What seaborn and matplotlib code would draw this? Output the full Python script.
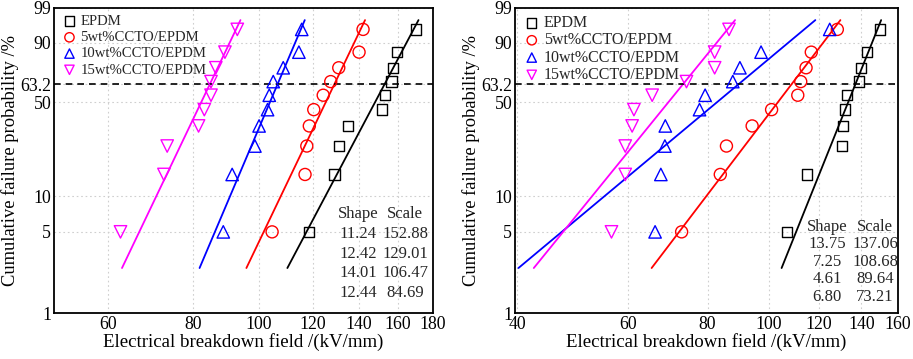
import numpy as np
import matplotlib
matplotlib.use("Agg")
import matplotlib.pyplot as plt
import seaborn as sns

# Data (breakdown field in kV/mm)
probs = [5, 15, 25, 35, 45, 55, 65, 75, 85, 95]  # cumulative failure probability, %
series_names = ["EPDM", "5wt%CCTO/EPDM", "10wt%CCTO/EPDM", "15wt%CCTO/EPDM"]

left_epdm = [118.5, 129.0, 130.9, 135.2, 151.5, 152.9, 156.5, 157.1, 159.4, 170.1]
left_5wt = [104.5, 116.8, 117.5, 118.5, 120.3, 124.2, 127.4, 130.9, 140.2, 142.1]
left_10wt = [88.6, 91.3, 98.6, 100.0, 102.9, 103.5, 104.9, 108.5, 114.4, 115.5]
left_15wt = [62.6, 72.5, 73.3, 81.5, 83.1, 85.0, 85.0, 86.4, 89.1, 92.9]
left_shape = [11.24, 12.42, 14.01, 12.44]
left_scale = [152.88, 129.01, 106.47, 84.69]

right_epdm = [106.7, 115.0, 130.5, 131.1, 131.8, 132.9, 139.0, 140.0, 142.9, 149.9]
right_5wt = [72.8, 83.8, 85.7, 94.1, 101.0, 111.1, 112.3, 114.5, 116.7, 128.3]
right_10wt = [66.1, 67.5, 68.5, 68.6, 77.7, 79.3, 87.7, 90.0, 97.2, 124.8]
right_15wt = [56.4, 59.3, 59.3, 60.8, 61.2, 65.4, 74.1, 82.1, 82.1, 86.5]
right_shape = [13.75, 7.25, 4.61, 6.80]
right_scale = [137.06, 108.68, 89.64, 73.21]

y_ticks = [1, 5, 10, 50, 63.2, 90, 99]
y_labels = ["1", "5", "10", "50", "63.2", "90", "99"]
left_xticks = [60, 80, 100, 120, 140, 160, 180]
right_xticks = [40, 60, 80, 100, 120, 140, 160]

colors = ["black", "#ff0000", "#0000ff", "#ff00ff"]
markers = ["s", "o", "^", "v"]
msizes = [55, 75, 80, 80]

sns.set_theme(style="white")
plt.rcParams["font.family"] = ["Liberation Serif", "DejaVu Serif"]


def weibull_y(p):
    p = np.asarray(p, dtype=float) / 100.0
    return np.log(-np.log(1 - p))


def draw_panel(ax, data, shapes, scales, xlim, xticks, table_pos, leg_font, leg_space):
    ys = weibull_y(probs)
    # fitted Weibull lines from shape / scale
    f_line = np.array([2.45, 97.3])
    for shp, scl, c in zip(shapes, scales, colors):
        xl = scl * (-np.log(1 - f_line / 100)) ** (1 / shp)
        sns.lineplot(x=xl, y=weibull_y(f_line), color=c, lw=1.3, ax=ax,
                     sort=False, legend=False)
    for vals, name, c, m, s in zip(data, series_names, colors, markers, msizes):
        sns.scatterplot(x=vals, y=ys, marker=m, s=s, facecolor="none",
                        edgecolor=c, linewidth=1.0, ax=ax, label=name, zorder=3)
    ax.axhline(0, color="black", ls=(0, (4, 3)), lw=1.2)

    ax.set_xscale("log")
    ax.set_xlim(*xlim)
    ax.set_xticks(xticks)
    ax.set_xticklabels([str(t) for t in xticks])
    ax.xaxis.set_minor_locator(matplotlib.ticker.NullLocator())
    ax.set_ylim(weibull_y(1), weibull_y(99))
    ax.set_yticks(weibull_y(y_ticks))
    ax.set_yticklabels(y_labels)
    ax.tick_params(direction="in", length=4, width=1, labelsize=12.8, pad=2,
                   colors="black")
    ax.grid(True, ls=(0, (1.5, 2.5)), color="#cfcfcf", lw=0.8)
    for sp in ax.spines.values():
        sp.set_color("black")
        sp.set_linewidth(1.3)
    ax.set_xlabel("Electrical breakdown field /(kV/mm)", fontsize=13.6, labelpad=0,
                  color="black")
    ax.set_ylabel("Cumulative failure probability /%", fontsize=13.3, labelpad=1,
                  color="black")

    leg = ax.legend(loc="upper left", frameon=False, fontsize=leg_font,
                    handletextpad=0.15, borderaxespad=0.25, labelspacing=leg_space,
                    handlelength=1.2, borderpad=0.2)
    for h in leg.legend_handles:
        h.set_sizes([45])

    # Shape / Scale table
    cx1, cx2, ys_tab = table_pos
    ax.text(cx1, ys_tab[0], "Shape", transform=ax.transAxes, ha="center",
            va="center", fontsize=12)
    ax.text(cx2, ys_tab[0], "Scale", transform=ax.transAxes, ha="center",
            va="center", fontsize=12)
    for yy, shp, scl in zip(ys_tab[1:], shapes, scales):
        ax.text(cx1, yy, f"{shp:.2f}", transform=ax.transAxes, ha="center",
                va="center", fontsize=12)
        ax.text(cx2, yy, f"{scl:.2f}", transform=ax.transAxes, ha="center",
                va="center", fontsize=12)


fig = plt.figure(figsize=(9.13, 3.59), dpi=100)
ax1 = fig.add_axes([54 / 913, 1 - 313 / 359, 379 / 913, 305 / 359])
ax2 = fig.add_axes([515 / 913, 1 - 313 / 359, 383 / 913, 305 / 359])

draw_panel(ax1, [left_epdm, left_5wt, left_10wt, left_15wt], left_shape, left_scale,
           (50, 180), left_xticks,
           (0.802, 0.927, [0.324, 0.259, 0.193, 0.130, 0.067]), 10.6, 0.2)
draw_panel(ax2, [right_epdm, right_5wt, right_10wt, right_15wt], right_shape, right_scale,
           (39.7, 160), right_xticks,
           (0.815, 0.940, [0.283, 0.225, 0.167, 0.110, 0.053]), 11.5, 0.08)

fig.savefig("out.png", dpi=100)
